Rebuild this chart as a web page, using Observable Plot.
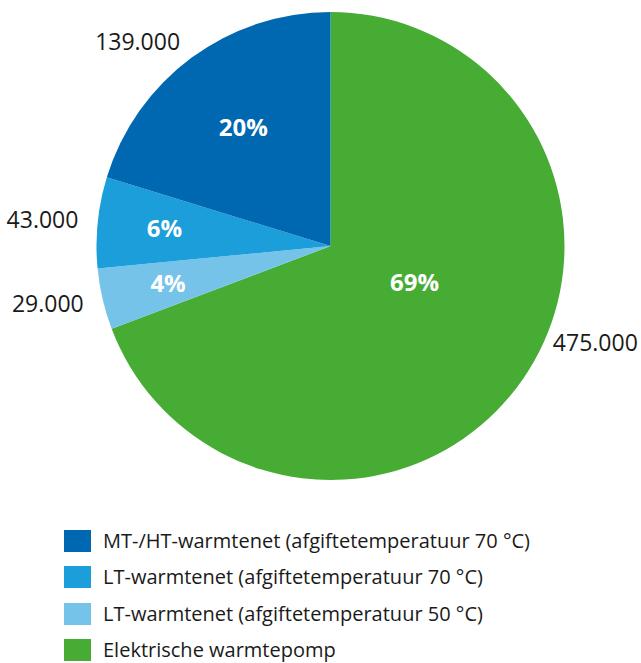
<!DOCTYPE html>
<html><head><meta charset="utf-8">
<script src="https://cdn.jsdelivr.net/npm/d3@7"></script>
<script src="https://cdn.jsdelivr.net/npm/@observablehq/plot@0.6"></script>
<style>
body{margin:0;background:#fff;font-family:"Open Sans",sans-serif;overflow:hidden;}
#chart svg{display:block;overflow:visible;}
#legend{margin-left:64px;margin-top:30px;}
.row{display:flex;align-items:center;height:22px;margin-bottom:14.33px;}
.sw{width:27px;height:22px;margin-right:12px;flex:none;}
.lab{font-size:20px;line-height:22px;color:#1a1a1a;white-space:nowrap;}
</style></head>
<body><div id="chart"></div><div id="legend"></div>
<script>
// Data (slice order: clockwise from 12 o'clock)
const categories = [
  "Elektrische warmtepomp",
  "LT-warmtenet (afgiftetemperatuur 50 °C)",
  "LT-warmtenet (afgiftetemperatuur 70 °C)",
  "MT-/HT-warmtenet (afgiftetemperatuur 70 °C)"
];
const values = [475000, 29000, 43000, 139000];
const valueLabels = ["475.000", "29.000", "43.000", "139.000"];
const percentLabels = ["69%", "4%", "6%", "20%"];
const colors = ["#46ac34", "#76c3ea", "#1b9ed9", "#0067b1"];
const legendOrder = [3, 2, 1, 0];

// Layout
const labelAngleTweak = [-11, 0, 0, 0]; // degrees, for label placement only
const outerKTweak = [-0.05, 0, 0, 0];
const innerRadiusFactor = p => p > 0.5 ? 0.39 : p > 0.1 ? 0.63 : 0.715;
const outerK = 1.085;

const data = categories.map((c, i) => ({category: c, value: values[i], vlabel: valueLabels[i], plabel: percentLabels[i]}));
const total = d3.sum(values);
const arcs = d3.pie().sort(null).value(d => d.value)(data);
arcs.forEach((a, i) => {
  a.data.share = a.data.value / total;
  a.data.labelAngle = (a.startAngle + a.endAngle) / 2 + labelAngleTweak[i] * Math.PI / 180;
  a.data.outerK = outerK + outerKTweak[i];
});

function pieRender(index, scales, vals, dimensions, context) {
  const cx = scales.x(0), cy = scales.y(0), r = scales.x(1) - cx;
  const arc = d3.arc().innerRadius(0).outerRadius(r);
  const g = d3.create("svg:g").attr("transform", `translate(${cx},${cy})`);
  g.selectAll("path").data(arcs).join("path")
    .attr("d", arc)
    .attr("fill", d => scales.color(d.data.category));
  return g.node();
}

const outerText = (side) => Plot.text(data, {
  filter: d => side === "left" ? Math.sin(d.labelAngle) < 0 : Math.sin(d.labelAngle) >= 0,
  x: d => Math.sin(d.labelAngle) * d.outerK,
  y: d => Math.cos(d.labelAngle) * d.outerK,
  text: "vlabel", fill: "#1a1a1a", fontSize: 23,
  textAnchor: side === "left" ? "end" : "start"
});
const plot = Plot.plot({
  width: 641, height: 500, margin: 0,
  style: {background: "#fff", fontFamily: "'Open Sans', sans-serif", overflow: "visible"},
  x: {axis: null, domain: [-1, 1], range: [96.5, 564.5]},
  y: {axis: null, domain: [-1, 1], range: [480, 12]},
  color: {domain: categories, range: colors},
  marks: [
    Plot.dot(data, {x: () => 0, y: () => 0, fill: "category", render: pieRender}),
    Plot.text(data, {
      x: d => Math.sin(d.labelAngle) * innerRadiusFactor(d.share),
      y: d => Math.cos(d.labelAngle) * innerRadiusFactor(d.share),
      text: "plabel", fill: "white", fontWeight: 700, fontSize: 24
    }),
    outerText("left"),
    outerText("right")
  ]
});
document.getElementById("chart").appendChild(plot);

const legend = d3.select("#legend");
legendOrder.forEach(i => {
  const row = legend.append("div").attr("class", "row");
  row.append("div").attr("class", "sw").style("background", colors[i]);
  row.append("div").attr("class", "lab").text(categories[i]);
});
</script>
</body></html>
